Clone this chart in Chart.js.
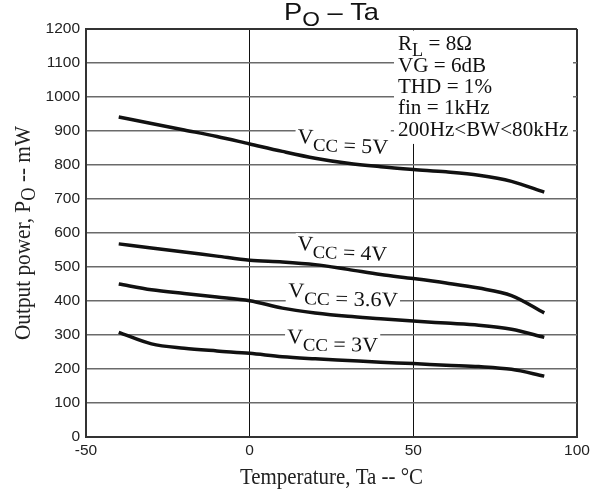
<!DOCTYPE html>
<html>
<head>
<meta charset="utf-8">
<script src="https://cdn.jsdelivr.net/npm/chart.js@4"></script>
<style>
html,body{margin:0;padding:0;background:#fff;}
#wrap{width:603px;height:489px;}
</style>
</head>
<body>
<div id="wrap"><canvas id="c" width="603" height="489"></canvas></div>
<script>
// ---- data ----
const temps = [-40, -30, -20, -10, 0, 10, 20, 30, 40, 50, 60, 70, 80, 90];
const vcc5  = [941, 922, 903, 884, 862, 840, 820, 805, 795, 787, 780, 770, 752, 720];
const vcc4  = [568, 556, 544, 532, 520, 515, 507, 493, 478, 466, 453, 438, 416, 365];
const vcc36 = [450, 433, 422, 412, 401, 379, 365, 355, 348, 341, 335, 329, 317, 293];
const vcc3  = [308, 274, 261, 253, 246, 236, 230, 225, 220, 216, 211, 207, 199, 179];
const seriesNames = ['5V', '4V', '3.6V', '3V'];
const xTicks = [-50, 0, 50, 100];
const yTicks = [0, 100, 200, 300, 400, 500, 600, 700, 800, 900, 1000, 1100, 1200];
// label anchors (data coordinates) for curve names
const labelX = [14.5, 14.5, 11.7, 11.4];
const labelY = [865, 550, 412, 276];
const conditions = ['R|L| = 8Ω', 'VG = 6dB', 'THD = 1%', 'fin = 1kHz', '200Hz<BW<80kHz'];
const condX = 45.3;
const condY = [1138, 1075, 1012, 950, 885];

const SERIF = '"Liberation Serif", "Times New Roman", serif';
const SANS = '"Liberation Sans", Arial, sans-serif';

function mkPts(ys){ return temps.map((t,i)=>({x:t, y:ys[i]})); }

// draw text composed of parts [{t, size, dy, fam}]
function drawRich(ctx, parts, x, y, o){
  o = o || {};
  ctx.save();
  let total = 0;
  const ws = parts.map(p=>{ ctx.font = p.size+'px '+p.fam; const w = ctx.measureText(p.t).width; total += w; return w; });
  const sx = o.sx || (o.width ? o.width/total : 1);
  ctx.translate(x, y);
  if (o.angle) ctx.rotate(o.angle);
  ctx.scale(sx, 1);
  let x0 = o.align === 'center' ? -total/2 : 0;
  if (o.mask){
    ctx.fillStyle = '#fff';
    const pad = o.pad || 2;
    ctx.fillRect(x0 - pad, -o.mask[0] - pad, total + 2*pad, o.mask[0] + o.mask[1] + 2*pad);
  }
  ctx.fillStyle = o.color || '#111';
  ctx.textBaseline = 'alphabetic';
  ctx.textAlign = 'left';
  parts.forEach((p,i)=>{
    ctx.font = p.size+'px '+p.fam;
    ctx.fillText(p.t, x0, p.dy || 0);
    x0 += ws[i];
  });
  ctx.restore();
  return total*sx;
}

const annot = {
  id: 'annot',
  beforeDatasetsDraw(chart){
    const {ctx, chartArea, scales:{x, y}} = chart;
    // white area behind the test-condition text
    ctx.save();
    ctx.fillStyle = '#fff';
    const bx = x.getPixelForValue(44.1);
    const by = y.getPixelForValue(862);
    ctx.fillRect(bx, chartArea.top + 1.5, chartArea.right - 4 - bx, by - chartArea.top - 1.5);
    ctx.restore();
    // condition text
    const sx = 0.96;
    conditions.forEach((line, i)=>{
      const px = x.getPixelForValue(condX), py = y.getPixelForValue(condY[i]);
      let parts;
      if (line.indexOf('|') >= 0){
        const seg = line.split('|');
        parts = [{t:seg[0], size:22, fam:SERIF}, {t:seg[1], size:19, fam:SERIF, dy:6}, {t:seg[2], size:22, fam:SERIF}];
      } else parts = [{t:line, size:22, fam:SERIF}];
      drawRich(ctx, parts, px, py, {sx: sx});
    });
    // curve labels (drawn under the curves)
    const widths = [91, 90, 110, 91];
    const angles = [2.5, 2.5, 1.5, 1];
    seriesNames.forEach((n, i)=>{
      const parts = [
        {t:'V', size:21, fam:SERIF},
        {t:'CC', size:18, fam:SERIF, dy:7},
        {t:' = '+n, size:21, fam:SERIF, dy:7}
      ];
      drawRich(ctx, parts, x.getPixelForValue(labelX[i]), y.getPixelForValue(labelY[i]),
        {width: widths[i], angle: angles[i]*Math.PI/180, mask:[15, 8], pad:2});
    });
  },
  afterDraw(chart){
    const {ctx, chartArea} = chart;
    const cx = (chartArea.left + chartArea.right)/2;
    const cy = (chartArea.top + chartArea.bottom)/2;
    // title
    drawRich(ctx, [
      {t:'P', size:24, fam:SANS},
      {t:'O', size:20, fam:SANS, dy:6},
      {t:' – Ta', size:24, fam:SANS}
    ], cx, 19.5, {align:'center', width:95, color:'#111'});
    // x title
    drawRich(ctx, [{t:'Temperature, Ta -- °C', size:23, fam:SERIF}], cx, 484, {align:'center', width:183, color:'#222'});
    // y title
    ctx.save();
    ctx.translate(30, cy);
    ctx.rotate(-Math.PI/2);
    drawRich(ctx, [
      {t:'Output power, P', size:23, fam:SERIF},
      {t:'O', size:20, fam:SERIF, dy:5},
      {t:' -- mW', size:23, fam:SERIF}
    ], 0, 0, {align:'center', width:214, color:'#222'});
    ctx.restore();
  }
};

const lineStyle = {borderColor:'#111', borderWidth:3.5, pointRadius:0, fill:false, cubicInterpolationMode:'monotone', borderCapStyle:'butt'};

new Chart(document.getElementById('c'), {
  type: 'line',
  data: {
    datasets: [
      Object.assign({label:'VCC = 5V', data: mkPts(vcc5)}, lineStyle),
      Object.assign({label:'VCC = 4V', data: mkPts(vcc4)}, lineStyle),
      Object.assign({label:'VCC = 3.6V', data: mkPts(vcc36)}, lineStyle),
      Object.assign({label:'VCC = 3V', data: mkPts(vcc3)}, lineStyle)
    ]
  },
  options: {
    responsive: false,
    animation: false,
    layout: {padding: {left: 0, top: 29, right: 26, bottom: 0}},
    plugins: {legend: {display: false}, tooltip: {enabled: false}, title: {display: false}},
    scales: {
      x: {
        type: 'linear', min: -50, max: 100,
        afterFit: s => { s.height = 52; },
        afterBuildTicks: s => { s.ticks = xTicks.map(v => ({value: v})); },
        ticks: {font: {family: SANS, size: 15.5}, color: '#222', padding: 4, maxRotation: 0, callback: v => String(v)},
        grid: {
          drawTicks: false,
          color: c => (c.tick && (c.tick.value === -50 || c.tick.value === 100)) ? '#333' : '#111',
          lineWidth: c => (c.tick && (c.tick.value === -50 || c.tick.value === 100)) ? 2 : 1
        },
        border: {color: '#333', width: 2}
      },
      y: {
        type: 'linear', min: 0, max: 1200,
        afterFit: s => { s.width = 86; },
        afterBuildTicks: s => { s.ticks = yTicks.map(v => ({value: v})); },
        ticks: {font: {family: SANS, size: 15.5}, color: '#222', padding: 6, callback: v => String(v)},
        grid: {
          drawTicks: false,
          color: c => (c.tick && c.tick.value === 1200) ? '#333' : '#6a6a6a',
          lineWidth: c => (c.tick && c.tick.value === 1200) ? 2 : 1.4
        },
        border: {color: '#333', width: 2}
      }
    }
  },
  plugins: [annot]
});
</script>
</body>
</html>
